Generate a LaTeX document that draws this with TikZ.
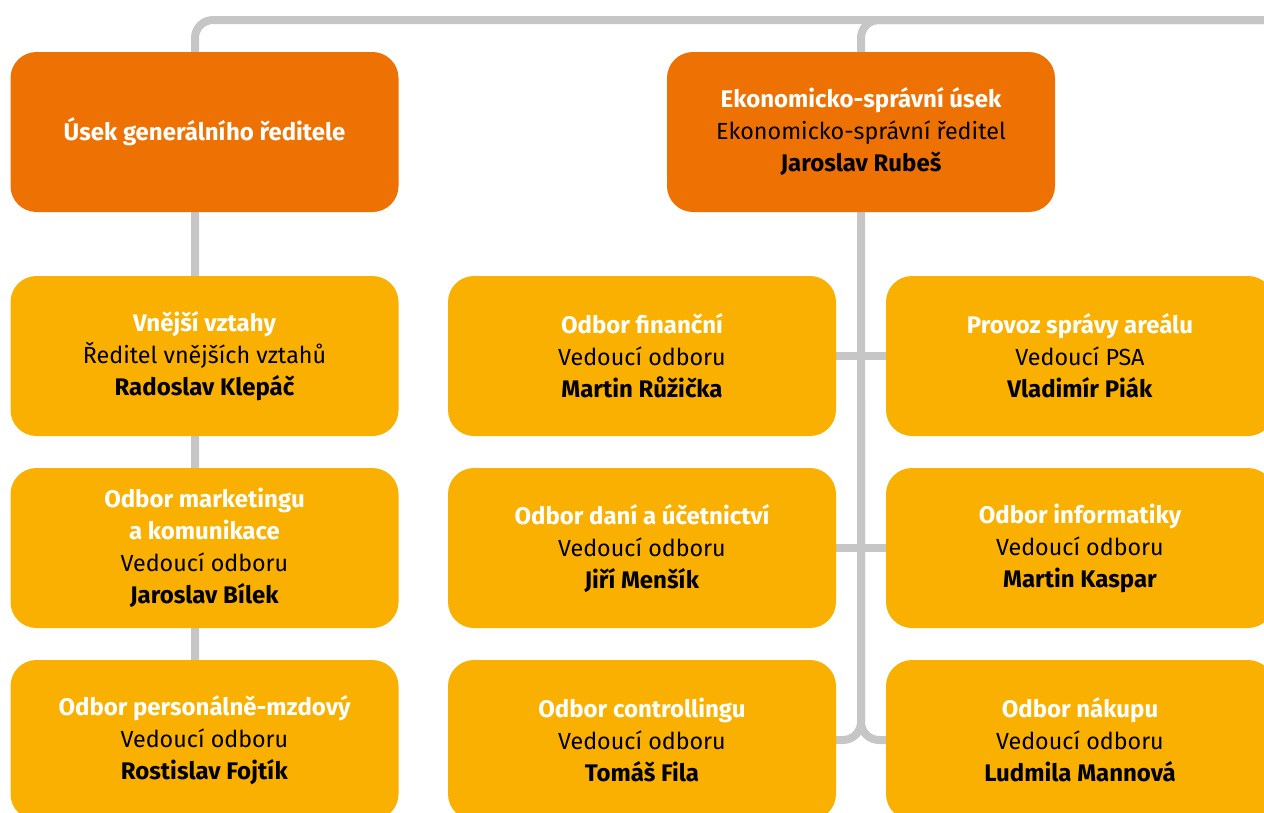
\documentclass[tikz,border=0pt]{standalone}
\usepackage{fontspec}
\setmainfont{Fira Sans}
\usetikzlibrary{backgrounds}
\definecolor{orangebox}{HTML}{EE7203}
\definecolor{yellowbox}{HTML}{F9B000}
\definecolor{linegray}{HTML}{C6C6C6}
\newcommand{\bt}[1]{{\fontsize{24}{32}\selectfont\textbf{#1}}}
\newcommand{\wt}[1]{\bt{\color{white}#1}}
\begin{document}
\begin{tikzpicture}[x=1pt,y=-1pt,
  unitbox/.style={rounded corners=26pt, minimum width=388pt, minimum height=160pt,
    align=center, inner sep=0pt, font=\fontsize{23.3}{32}\selectfont},
  headbox/.style={unitbox, fill=orangebox},
  deptbox/.style={unitbox, fill=yellowbox},
  conn/.style={draw=linegray, line width=8pt, rounded corners=18pt}]
\useasboundingbox (0,0) rectangle (1264,812);
% nodes
\node[headbox] (gen) at (204.5,132) {\wt{Úsek generálního ředitele}};
\node[headbox] (eko) at (861,132) {\wt{Ekonomicko-správní úsek}\\Ekonomicko-správní ředitel\\\bt{Jaroslav Rubeš}};
\node[deptbox] (vne) at (204.5,356) {\wt{Vnější vztahy}\\Ředitel vnějších vztahů\\\bt{Radoslav Klepáč}};
\node[deptbox] (mkt) at (204.5,548) {\wt{Odbor marketingu}\\\wt{a komunikace}\\Vedoucí odboru\\\bt{Jaroslav Bílek}};
\node[deptbox] (per) at (204.5,740) {\wt{Odbor personálně-mzdový}\\Vedoucí odboru\\\bt{Rostislav Fojtík}};
\node[deptbox] (fin) at (642,356) {\wt{Odbor finanční}\\Vedoucí odboru\\\bt{Martin Růžička}};
\node[deptbox] (dan) at (642,548) {\wt{Odbor daní a účetnictví}\\Vedoucí odboru\\\bt{Jiří Menšík}};
\node[deptbox] (ctl) at (642,740) {\wt{Odbor controllingu}\\Vedoucí odboru\\\bt{Tomáš Fila}};
\node[deptbox] (psa) at (1080,356) {\wt{Provoz správy areálu}\\Vedoucí PSA\\\bt{Vladimír Piák}};
\node[deptbox] (inf) at (1080,548) {\wt{Odbor informatiky}\\Vedoucí odboru\\\bt{Martin Kaspar}};
\node[deptbox] (nak) at (1080,740) {\wt{Odbor nákupu}\\Vedoucí odboru\\\bt{Ludmila Mannová}};
\coordinate (topend) at (1264,20);
\coordinate (leftspine) at (195,20);
\coordinate (rightspine) at (861,20);
\coordinate (split) at (861,740);
\coordinate (midspine) at (861,400);
% connectors
\begin{scope}[on background layer]
\draw[conn] (per.north -| leftspine) -- (leftspine) -- (topend);
\draw[conn] (ctl.east) -- (split) -- (rightspine) -- (topend);
\draw[conn] (nak.west) -- (split) -- (midspine);
\draw[conn] (fin.east) -- (psa.west);
\draw[conn] (dan.east) -- (inf.west);
\end{scope}
\end{tikzpicture}
\end{document}
